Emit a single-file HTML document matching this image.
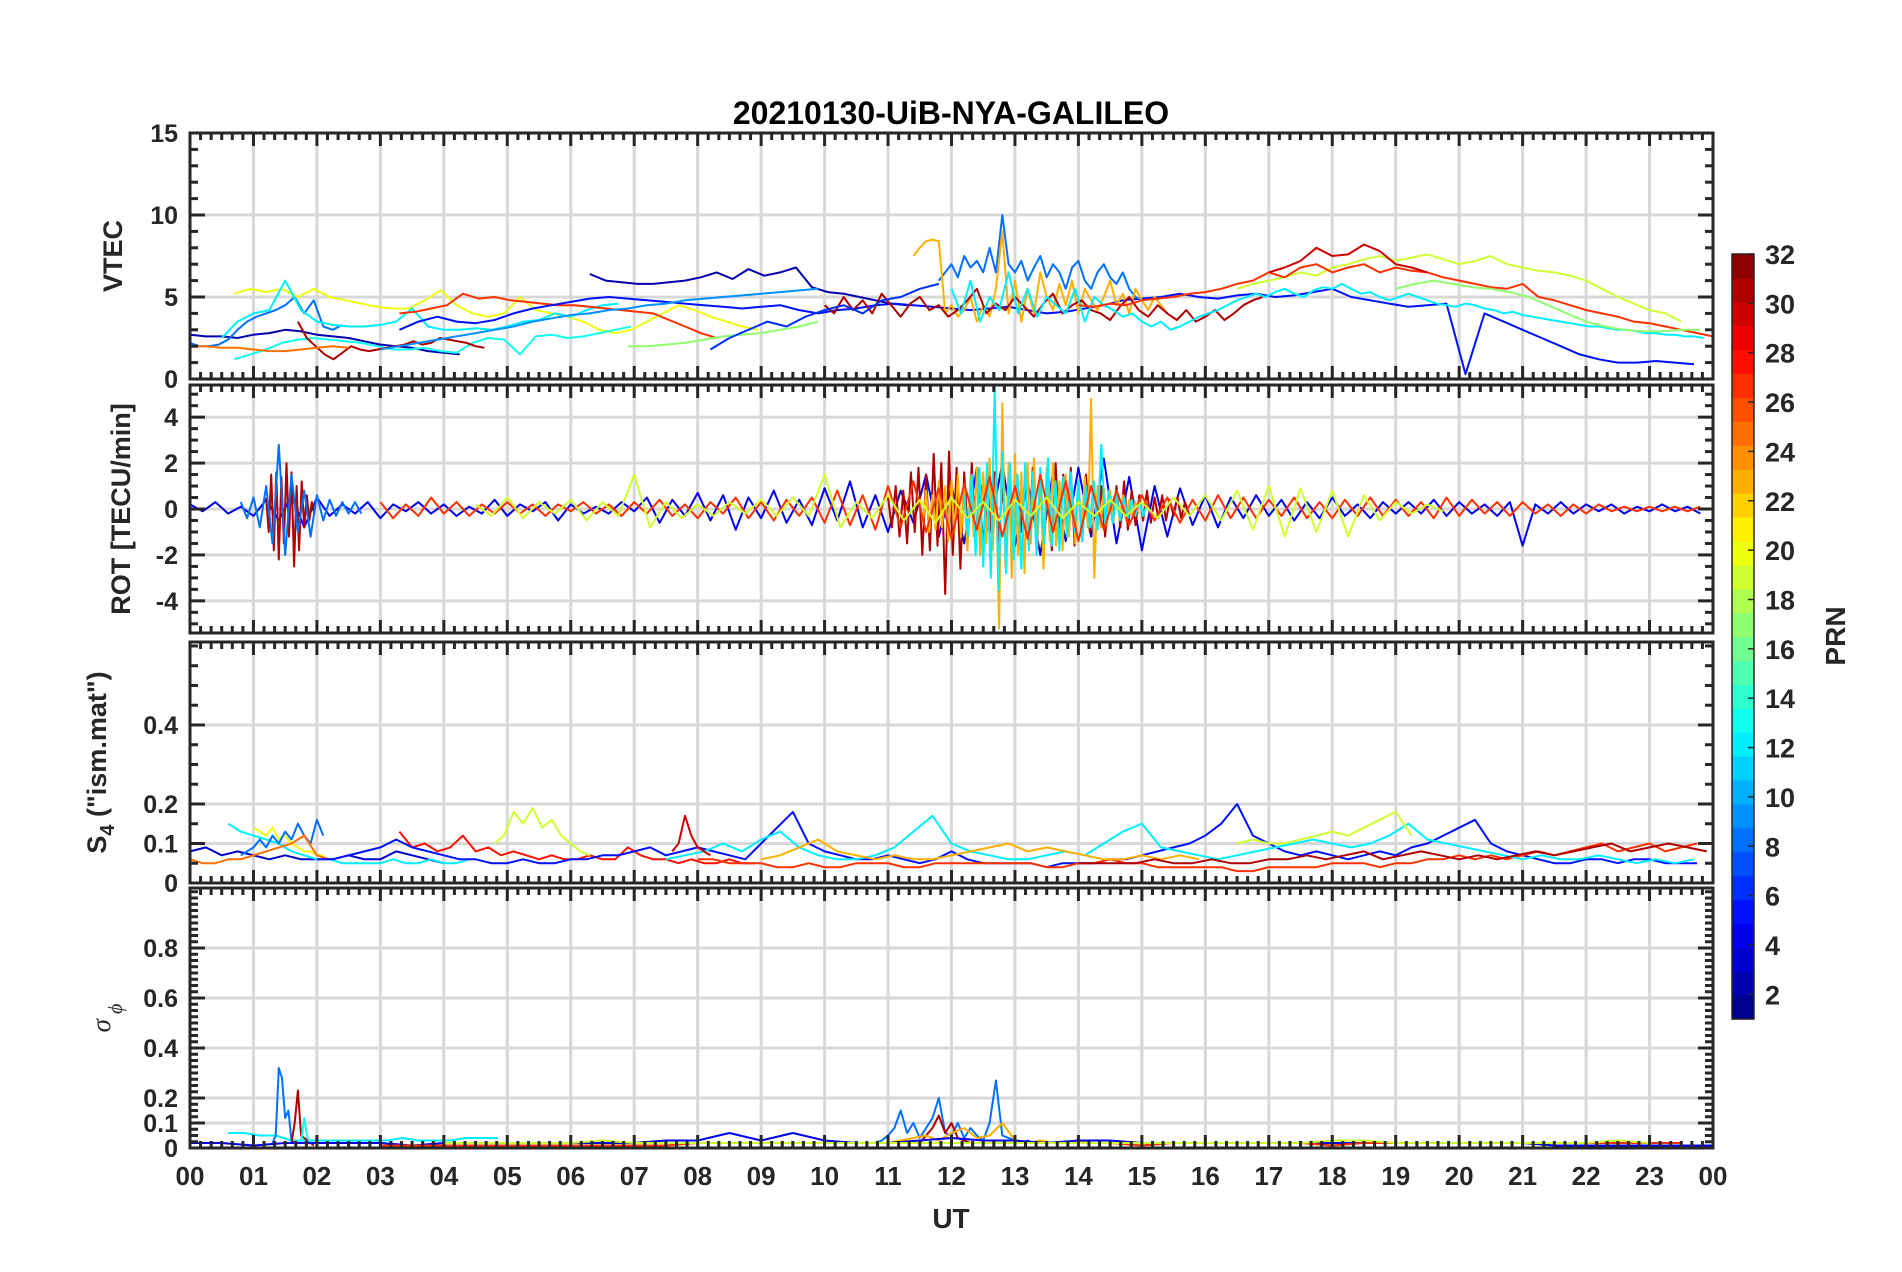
<!DOCTYPE html>
<html><head><meta charset="utf-8"><style>
html,body{margin:0;padding:0;background:#fff;}
svg{display:block;font-family:"Liberation Sans",Arial,sans-serif;}
</style></head><body>
<svg id="fig" width="1902" height="1272" viewBox="0 0 1902 1272" xmlns="http://www.w3.org/2000/svg">
<rect width="1902" height="1272" fill="#fff"/>
<text x="951" y="124" text-anchor="middle" font-size="32" font-weight="bold" fill="#000">20210130-UiB-NYA-GALILEO</text>
<g id="panels"></g>
<g id="cbar"></g>
<text x="951" y="1228" text-anchor="middle" font-size="28" font-weight="bold" fill="#262626">UT</text>
</svg>
<script>
// ---- x axis ----
const xTickLabels = ["00","01","02","03","04","05","06","07","08","09","10","11","12","13","14","15","16","17","18","19","20","21","22","23","00"];
// ---- VTEC panel series: [prn, startHour, stepHour] and values ----
const vtecMeta = [[2,0,0.25],[2,6.3,0.25],[8,0,0.15],[20,0.7,0.25],[12,0.5,0.25],[13,0.7,0.25],[31,1.7,0.14],[25,0,0.25],[27,3.3,0.25],[5,3.3,0.3],[8,11.8,0.1],[23,11.4,0.1],[31,10,0.15],[12,12,0.15],[19,16.5,0.25],[27,14,0.25],[30,17,0.25],[17,6.9,0.3],[17,19,0.3],[6,8.2,0.3],[9,3,0.3]];
const vtecValues = [
[2.7,2.6,2.6,2.5,2.7,2.8,3.0,2.9,2.7,2.6,2.5,2.3,2.1,2.0,1.9,1.7,1.6,1.5],
[6.4,6.0,5.9,5.8,5.8,5.9,6.0,6.2,6.5,6.1,6.7,6.3,6.5,6.8,5.6,5.3,5.2,5.0,4.8,4.6,4.5],
[2.2,2.0,2.0,2.1,2.4,3.0,3.5,3.8,4.0,4.2,4.5,5.0,4.0,4.8,3.2,3.0,3.3],
[5.2,5.5,5.3,5.5,5.0,5.5,5.0,4.8,4.6,4.4,4.3,4.3,4.8,5.4,4.5,4.0,3.8,4.0,5.0,4.2,4.0,3.8,3.5,3.0,2.8,3.0,3.5,4.0,4.5,4.2,3.8,3.5,3.2,3.0],
[2.5,3.5,4.0,4.2,6.0,4.2,3.5,3.3,3.2,3.2,3.3,3.5,4.3,3.2,3.0,3.0,3.1,3.0,3.2,3.5,3.6,4.0,3.8,4.2,4.5,4.6],
[1.2,1.5,1.8,2.2,2.4,2.5,2.4,2.3,2.2,2.0,1.8,1.8,1.9,1.7,1.6,2.2,2.5,2.4,1.5,2.6,2.7,2.5,2.6,2.8,3.0,3.2],
[3.5,2.5,2.0,1.5,1.2,1.6,2.0,1.8,1.7,1.8,1.9,2.0,2.1,2.3,2.1,2.2,2.5,2.4,2.3,2.2,2.0,1.9],
[2.0,2.0,1.9,1.9,1.8,1.7,1.7,1.8,1.9,2.0,1.9],
[4.0,4.1,4.3,4.5,5.2,4.9,5.0,4.8,4.7,4.6,4.5,4.5,4.4,4.3,4.2,4.1,4.0,3.6,3.2,2.8,2.5],
[3.0,3.5,3.8,3.5,3.4,3.6,4.0,4.3,4.5,4.7,4.9,5.0,4.9,4.8,4.7,4.6,4.5,4.4,4.3,4.4,4.5,4.2,4.0,4.2,4.3,4.5,4.6,4.5,4.4,4.3,4.2,4.3,4.4,4.2,4.0,4.1,4.3,4.5,4.8,4.9,5.0,5.2,5.0,4.9,5.1,5.2,5.0,5.1,5.3,5.5,5.0,4.8,4.6,4.4,4.5,4.6,0.3,4.0,3.5,3.0,2.5,2.0,1.5,1.2,1.0,1.0,1.1,1.0,0.9],
[6.0,6.5,7.0,6.2,7.5,6.8,7.2,6.5,8.0,6.5,10.0,7.0,6.5,7.2,6.0,6.8,7.5,6.2,7.0,6.5,5.5,6.8,7.2,6.0,5.5,6.5,7.0,6.2,5.8,6.5,5.5,5.0,4.8],
[7.5,8.0,8.4,8.5,8.4,4.0,4.5,3.8,4.2,5.0,3.5,4.5,3.8,5.5,9.0,4.0,6.0,3.5,5.5,4.0,6.5,5.0,4.2,5.8,4.5,6.0,4.0,5.5,4.8,4.2,5.0,6.0,4.5,5.2,4.0,5.5,4.8,4.2,5.0,4.5,4.0],
[4.5,4.0,5.0,4.2,4.8,4.0,5.2,4.5,3.8,4.6,5.0,4.2,4.5,3.8,4.2,4.8,5.5,4.0,4.6,4.2,5.0,4.4,3.8,4.6,5.2,4.0,4.5,4.8,4.2,4.0,3.6,4.4,5.0,4.2,3.8,4.5,4.0,3.6,4.2,3.5,3.8,4.2,3.6,4.0,4.5,4.8,5.0],
[5.5,4.0,6.0,3.5,5.0,4.2,6.5,4.0,5.5,3.8,5.0,4.5,4.0,5.5,3.5,5.0,4.5,4.2,3.8,4.0,3.5,3.2,3.5,3.0,3.2,3.5,3.8,4.0,4.2,4.5,4.8,5.0,5.2,5.0,5.3,5.5,5.2,5.0,5.4,5.6,5.5,5.8,5.5,5.2,5.3,5.0,4.8,5.0,5.2,5.0,4.8,4.6,4.5,4.4,4.6,4.5,4.3,4.2,4.0,4.1,3.9,3.8,3.7,3.6,3.5,3.4,3.3,3.2,3.2,3.1,3.0,3.0,2.9,2.8,2.8,2.7,2.7,2.6,2.6,2.5],
[5.5,5.8,6.0,6.2,6.5,6.3,6.8,7.0,7.3,7.5,7.2,7.4,7.6,7.3,7.0,7.2,7.5,7.0,6.8,6.6,6.5,6.3,6.0,5.5,5.0,4.6,4.2,4.0,3.5],
[4.5,4.4,4.6,4.5,4.8,4.9,5.0,5.2,5.3,5.5,5.8,6.0,6.5,6.2,6.8,7.0,6.5,6.8,7.0,6.5,6.8,6.6,6.5,6.2,6.0,5.8,5.6,5.5,5.8,5.0,4.8,4.5,4.2,4.0,3.8,3.5,3.4,3.2,3.0,2.8,2.6],
[6.5,6.8,7.2,8.0,7.5,7.6,8.2,7.8,7.0,6.8,6.5],
[2.0,2.0,2.1,2.2,2.4,2.6,2.7,2.8,3.0,3.2,3.5],
[5.5,5.8,6.0,5.8,5.6,5.5,5.3,5.0,4.5,4.0,3.5,3.2,3.0,2.9,2.9,3.0,3.0],
[1.8,2.5,3.0,3.5,3.2,3.8,4.2,4.5,4.0,4.8,5.0,5.5,5.8],
[1.8,2.0,2.2,2.4,2.6,2.8,3.0,3.2,3.5,3.7,3.9,4.0,4.2,4.3,4.5,4.6,4.8,4.9,5.0,5.1,5.2,5.3,5.4,5.5]
];
// ---- ROT panel ----
const rotMeta = [[4,0,0.2],[31,1.2,0.04],[31,11,0.06],[23,11.5,0.05],[12,12.2,0.06],[27,3,0.2],[19,4.5,0.25],[8,0.8,0.1]];
const rotValues = [
[0.2,-0.1,0.3,-0.2,0.1,-0.3,0.4,-0.5,0.6,-0.8,0.5,-0.3,0.2,-0.2,0.3,-0.4,0.2,-0.1,0.3,-0.2,0.2,-0.3,0.1,-0.2,0.4,-0.3,0.2,-0.1,0.3,-0.5,0.2,-0.2,0.1,-0.2,0.3,-0.1,0.5,-0.6,0.4,-0.3,0.7,-0.5,0.6,-0.9,0.5,-0.4,0.8,-0.6,0.4,-0.7,0.9,-0.5,1.2,-0.8,0.6,-1.0,0.8,-0.6,1.5,-1.2,1.0,-1.5,1.8,-1.0,2.0,-1.6,1.2,-2.0,1.6,-1.4,1.8,-1.2,2.2,-1.5,1.4,-1.8,1.0,-1.2,0.9,-0.7,0.6,-0.8,0.5,-0.4,0.6,-0.3,0.4,-0.5,0.3,-0.4,0.5,-0.3,0.2,-0.4,0.3,-0.2,0.3,-0.2,0.4,-0.3,0.3,-0.2,0.2,-0.3,0.3,-1.6,0.2,-0.2,0.3,-0.2,0.2,-0.1,0.2,-0.2,0.1,-0.1,0.2,-0.1,0.1,-0.2],
[0.5,-1.0,1.5,-1.8,1.6,-2.2,1.4,-1.5,2.0,-1.2,1.6,-2.5,1.0,-1.8,1.2,-0.8,0.6,-0.5,0.3,-0.2],
[0.5,-0.8,1.0,-1.2,0.8,-1.5,1.6,-1.0,1.8,-2.0,1.5,-1.8,2.4,-1.6,2.0,-3.7,2.5,-2.0,1.8,-2.6,1.6,-1.2,2.0,-1.5,1.2,-1.8,1.5,-1.0,1.6,-1.4,1.0,-1.2,1.5,-1.8,1.2,-1.0,1.4,-1.6,1.8,-1.2,1.0,-1.5,1.6,-1.8,2.0,-1.2,1.5,-1.0,1.8,-1.6,1.2,-1.4,1.5,-1.0,1.2,-0.8,1.0,-1.2,0.8,-0.6,1.0,-0.8,1.2,-0.9,0.8,-0.7,0.6,-0.5,0.8,-0.6,0.5,-0.4,0.6,-0.5,0.4,-0.3,0.5,-0.4,0.3,-0.2],
[0.4,-0.6,0.8,-1.0,0.6,-0.9,1.2,-0.8,1.0,-1.4,1.2,-1.0,1.5,-1.2,1.0,-1.8,1.4,-1.2,1.8,-2.0,1.6,-1.5,2.2,-1.8,1.4,-5.2,4.6,-2.5,2.0,-3.0,2.4,-2.0,1.6,-2.8,2.0,-1.5,2.2,-1.8,1.5,-2.6,1.8,-1.4,2.0,-1.6,1.2,-1.8,1.5,-1.2,1.0,-1.5,1.2,-1.0,1.4,-0.8,4.8,-3.0,1.0,-0.8,0.9,-0.7,0.8,-0.6,0.7,-0.5,0.6,-0.5,0.4,-0.3,0.3,-0.2],
[0.6,-1.2,1.5,-2.0,1.8,-2.5,2.0,-3.0,5.3,-3.5,2.5,-2.8,2.0,-2.2,1.5,-2.6,2.0,-1.8,1.6,-2.0,1.8,-1.5,2.2,-1.6,1.2,-1.8,1.4,-1.2,1.6,-1.0,1.2,-1.4,1.0,-0.8,1.2,-0.9,2.8,-0.7,0.8,-0.6,0.6,-0.5,0.5,-0.4,0.4,-0.3,0.4,-0.3,0.2,-0.2],
[0.3,-0.4,0.2,-0.3,0.5,-0.2,0.3,-0.3,0.2,-0.2,0.3,-0.2,0.2,-0.3,0.2,-0.1,0.3,-0.2,0.2,-0.3,0.3,-0.2,0.4,-0.3,0.2,-0.4,0.3,-0.2,0.5,-0.4,0.3,-0.5,0.4,-0.3,0.5,-0.6,0.8,-0.7,0.6,-0.9,1.0,-0.8,1.2,-1.0,0.9,-1.3,1.1,-0.9,1.4,-1.2,1.0,-1.3,1.5,-1.0,1.2,-1.4,1.0,-0.9,0.8,-0.7,0.6,-0.5,0.5,-0.6,0.4,-0.5,0.6,-0.4,0.5,-0.4,0.4,-0.3,0.5,-0.4,0.3,-0.4,0.4,-0.3,0.5,-0.3,0.4,-0.3,0.3,-0.4,0.5,-0.3,0.4,-0.2,0.3,-0.3,0.3,-0.2,0.2,-0.3,0.2,-0.2,0.2,-0.1,0.1,-0.1,0.1,-0.1,0.1,-0.1,0.1],
[0.2,-0.3,0.5,-0.4,0.3,-0.2,0.4,-0.5,0.3,-0.3,1.5,-0.8,0.3,-0.4,0.2,-0.3,0.3,-0.2,0.4,-0.3,0.5,-0.3,1.5,-0.8,0.3,-0.4,0.6,-0.5,0.4,-0.6,0.5,-0.4,0.3,-0.5,0.4,-0.3,0.5,-0.4,0.3,-0.3,0.4,-0.3,0.3,-0.4,0.5,-0.3,0.6,-0.5,0.8,-0.9,1.0,-1.2,0.9,-1.0,0.8,-1.2,0.6,-0.5,0.3,-0.2,0.2,-0.1],
[0.3,-0.4,0.5,-0.8,1.0,-1.5,2.8,-2.0,1.5,-1.0,0.8,-1.2,0.6,-0.5,0.4,-0.3,0.3,-0.2,0.3,-0.2]
];
// ---- S4 panel ----
const s4Meta = [[3,0,0.25],[12,0.6,0.2],[20,1.0,0.1],[8,0.8,0.1],[25,0,0.2],[28,3.3,0.2],[19,4.8,0.15],[5,2,0.25],[27,8,0.25],[12,7.5,0.3],[23,9,0.3],[19,16.5,0.25],[31,14,0.3],[30,7.6,0.1]];
const s4Values = [
[0.08,0.09,0.07,0.08,0.07,0.06,0.07,0.06,0.06,0.06,0.07,0.06,0.06,0.08,0.07,0.06,0.05],
[0.15,0.13,0.12,0.11,0.10,0.08,0.07,0.06,0.06,0.05,0.05,0.05,0.05,0.06,0.05,0.05,0.06,0.05,0.05,0.06],
[0.14,0.13,0.12,0.14,0.11,0.12,0.10,0.09,0.08,0.08,0.07,0.07],
[0.07,0.08,0.09,0.11,0.09,0.12,0.10,0.13,0.11,0.15,0.12,0.10,0.16,0.12],
[0.06,0.05,0.05,0.06,0.06,0.07,0.08,0.09,0.10,0.12,0.07,0.06],
[0.13,0.09,0.10,0.08,0.09,0.12,0.08,0.09,0.07,0.08,0.07,0.06,0.07,0.06,0.06,0.07,0.06,0.06,0.09,0.07,0.06,0.06,0.05,0.06,0.05,0.05,0.06,0.05,0.05],
[0.10,0.12,0.18,0.15,0.19,0.14,0.16,0.12,0.10,0.08,0.07],
[0.06,0.06,0.07,0.08,0.09,0.11,0.09,0.08,0.07,0.06,0.06,0.05,0.05,0.06,0.05,0.05,0.06,0.06,0.07,0.07,0.08,0.09,0.07,0.08,0.09,0.08,0.07,0.06,0.10,0.14,0.18,0.10,0.08,0.07,0.06,0.06,0.07,0.06,0.05,0.06,0.08,0.06,0.05,0.05,0.05,0.05,0.04,0.05,0.05,0.05,0.06,0.06,0.07,0.08,0.09,0.10,0.12,0.15,0.20,0.12,0.10,0.08,0.07,0.08,0.07,0.06,0.07,0.08,0.07,0.09,0.10,0.12,0.14,0.16,0.10,0.08,0.07,0.06,0.05,0.05,0.06,0.06,0.05,0.06,0.06,0.05,0.05,0.05],
[0.06,0.06,0.05,0.05,0.05,0.04,0.04,0.05,0.04,0.04,0.05,0.05,0.05,0.04,0.04,0.05,0.05,0.05,0.05,0.05,0.05,0.05,0.04,0.04,0.05,0.05,0.06,0.05,0.05,0.04,0.04,0.04,0.04,0.04,0.03,0.03,0.04,0.04,0.04,0.04,0.05,0.05,0.05,0.04,0.05,0.05,0.06,0.06,0.07,0.06,0.07,0.06,0.07,0.08,0.07,0.08,0.09,0.10,0.08,0.09,0.10,0.08,0.09,0.10],
[0.06,0.07,0.08,0.10,0.08,0.11,0.13,0.09,0.07,0.06,0.06,0.07,0.09,0.13,0.17,0.10,0.08,0.07,0.06,0.06,0.07,0.08,0.07,0.10,0.13,0.15,0.09,0.08,0.07,0.06,0.07,0.08,0.09,0.10,0.11,0.10,0.09,0.10,0.12,0.15,0.11,0.10,0.09,0.08,0.07,0.06,0.07,0.06,0.06,0.07,0.06,0.05,0.06,0.05,0.06],
[0.06,0.07,0.09,0.11,0.08,0.07,0.06,0.07,0.06,0.06,0.07,0.08,0.09,0.10,0.08,0.09,0.08,0.07,0.06,0.06,0.07,0.06,0.07,0.06],
[0.10,0.11,0.10,0.10,0.11,0.12,0.13,0.12,0.14,0.16,0.18,0.12],
[0.05,0.05,0.05,0.05,0.06,0.05,0.05,0.06,0.05,0.05,0.06,0.06,0.07,0.06,0.07,0.08,0.06,0.07,0.08,0.07,0.06,0.07,0.06,0.07,0.08,0.07,0.08,0.09,0.10,0.08,0.09,0.10,0.09,0.08],
[0.08,0.10,0.17,0.12,0.09,0.08,0.07]
];
// ---- sigma-phi panel ----
const sigMeta = [[12,0.6,0.25],[8,1.3,0.05],[31,1.6,0.05],[13,1.75,0.05],[8,10.8,0.1],[31,11.5,0.1],[23,11,0.2],[4,0,0.5],[27,3,0.5],[19,4,0.5]];
const sigValues = [
[0.06,0.06,0.05,0.05,0.03,0.03,0.03,0.03,0.03,0.03,0.03,0.04,0.03,0.03,0.03,0.04,0.04,0.04],
[0.02,0.05,0.32,0.28,0.12,0.15,0.03,0.02,0.02],
[0.02,0.10,0.23,0.05,0.04,0.03,0.02,0.01],
[0.02,0.12,0.04,0.02],
[0.02,0.03,0.05,0.08,0.15,0.06,0.10,0.04,0.08,0.12,0.20,0.06,0.05,0.10,0.04,0.08,0.05,0.03,0.10,0.27,0.05,0.04,0.03,0.02,0.03,0.02,0.02],
[0.02,0.05,0.08,0.13,0.06,0.10,0.04,0.03,0.02],
[0.02,0.03,0.04,0.05,0.03,0.06,0.08,0.04,0.05,0.10,0.03,0.02,0.03,0.02,0.02,0.03,0.02,0.02,0.02,0.02],
[0.02,0.02,0.01,0.02,0.02,0.02,0.02,0.01,0.02,0.02,0.02,0.02,0.02,0.02,0.02,0.03,0.03,0.06,0.03,0.06,0.03,0.02,0.02,0.03,0.04,0.03,0.03,0.02,0.03,0.03,0.02,0.02,0.02,0.02,0.02,0.02,0.02,0.02,0.02,0.02,0.02,0.02,0.02,0.01,0.01,0.01,0.01,0.01,0.01],
[0.01,0.01,0.01,0.01,0.01,0.01,0.01,0.01,0.01,0.01,0.02,0.02,0.02,0.02,0.02,0.02,0.02,0.02,0.02,0.02,0.02,0.02,0.02,0.02,0.01,0.02,0.02,0.02,0.02,0.02,0.01,0.02,0.02,0.02,0.02,0.02,0.02,0.02,0.02,0.02,0.02,0.02],
[0.02,0.02,0.02,0.02,0.02,0.03,0.02,0.02,0.02,0.02,0.02,0.02,0.02,0.02,0.02,0.02,0.02,0.02,0.02,0.02,0.02,0.02,0.02,0.02,0.02,0.02,0.02,0.02,0.03,0.03,0.02,0.02,0.02,0.02,0.02,0.02,0.02,0.03,0.02]
];
// ---- y-axis ticks ----
const p1Ticks=[0,5,10,15], p2Ticks=[-4,-2,0,2,4], p3Ticks=[0,0.1,0.2,0.4], p4Ticks=[0,0.1,0.2,0.4,0.6,0.8];
const p1TickLabels=["0","5","10","15"], p2TickLabels=["-4","-2","0","2","4"], p3TickLabels=["0","0.1","0.2","0.4"], p4TickLabels=["0","0.1","0.2","0.4","0.6","0.8"];
const cbTicks=[2,4,6,8,10,12,14,16,18,20,22,24,26,28,30,32];

const NS="http://www.w3.org/2000/svg";
const L=190,R=1713;
const X=t=>L+t/24*(R-L);
function jet(k){const t=(k-0.5)/32;const c=v=>Math.round(255*Math.max(0,Math.min(1,v)));
 return `rgb(${c(1.5-Math.abs(4*t-3))},${c(1.5-Math.abs(4*t-2))},${c(1.5-Math.abs(4*t-1))})`;}
function el(tag,attrs,parent){const e=document.createElementNS(NS,tag);for(const k in attrs)e.setAttribute(k,attrs[k]);parent.appendChild(e);return e;}
const root=document.getElementById('panels');
const panels=[
 {name:'vtec',top:133,bot:379,min:0,max:15,ticks:p1Ticks,labels:p1TickLabels,minor:1,meta:vtecMeta,vals:vtecValues,label:'VTEC',lx:122},
 {name:'rot',top:385,bot:633,min:-5.4,max:5.4,ticks:p2Ticks,labels:p2TickLabels,minor:0.5,meta:rotMeta,vals:rotValues,label:'ROT [TECU/min]',lx:130},
 {name:'s4',top:642,bot:883,min:0,max:0.61,ticks:p3Ticks,labels:p3TickLabels,minor:0.05,meta:s4Meta,vals:s4Values,label:'s4',lx:106},
 {name:'sigma-phi',top:888,bot:1148,min:0,max:1.04,ticks:p4Ticks,labels:p4TickLabels,minor:0.025,meta:sigMeta,vals:sigValues,label:'sig',lx:110}
];
panels.forEach((p,pi)=>{
 const g=el('g',{},root);
 
 
 const Y=v=>p.bot-(v-p.min)/(p.max-p.min)*(p.bot-p.top);
 for(let h=1;h<24;h++){const gl=el('line',{x1:X(h),x2:X(h),y1:p.top,y2:p.bot,stroke:'#d8d8d8','stroke-width':3},g);
  }
 p.ticks.forEach(v=>{const gl=el('line',{x1:L,x2:R,y1:Y(v),y2:Y(v),stroke:'#d8d8d8','stroke-width':3},g);
  });
 const clipId='clip'+pi;
 const cp=el('clipPath',{id:clipId},g);el('rect',{x:L,y:p.top,width:R-L,height:p.bot-p.top},cp);
 const sg=el('g',{'clip-path':`url(#${clipId})`},g);
 p.meta.forEach((m,i)=>{const pts=p.vals[i].map((v,j)=>X(m[1]+j*m[2]).toFixed(1)+','+Y(v).toFixed(1)).join(' ');
  const pl=el('polyline',{points:pts,fill:'none',stroke:jet(m[0]),'stroke-width':2,'stroke-linejoin':'round'},sg);
  });
 const tk=el('g',{stroke:'#262626','stroke-width':3},g);
 for(let m=0;m<=144;m++){const x=X(m/6);const len=(m%6===0)?13:7;
  el('line',{x1:x,x2:x,y1:p.top,y2:p.top+len},tk);el('line',{x1:x,x2:x,y1:p.bot,y2:p.bot-len},tk);}
 for(let k=Math.ceil(p.min/p.minor);k*p.minor<=p.max+1e-9;k++){const v=k*p.minor;const y=Y(v);
  const major=p.ticks.some(t=>Math.abs(t-v)<1e-9);const len=major?15:8;
  el('line',{x1:L,x2:L+len,y1:y,y2:y},tk);el('line',{x1:R,x2:R-len,y1:y,y2:y},tk);}
 p.ticks.forEach((v,i)=>{const t=el('text',{x:178,y:Y(v)+9,'text-anchor':'end','font-size':25,'font-weight':'bold',fill:'#262626'},g);
  t.textContent=p.labels[i];});
 const fr=el('rect',{x:L,y:p.top,width:R-L,height:p.bot-p.top,fill:'none',stroke:'#262626','stroke-width':3},g);
 
 const cy=(p.top+p.bot)/2;
 const yl=el('text',{transform:`translate(${p.lx},${cy}) rotate(-90)`,'text-anchor':'middle','font-size':27,'font-weight':'bold',fill:'#262626'},g);
 
 if(p.label==='s4'){yl.innerHTML='S<tspan font-size="20" dy="8">4</tspan><tspan dy="-8"> ("ism.mat")</tspan>';}
 else if(p.label==='sig'){yl.setAttribute('font-weight','normal');yl.setAttribute('font-style','italic');yl.setAttribute('font-family','"Liberation Serif",serif');
  yl.innerHTML='σ<tspan font-size="20" dy="12"> ϕ</tspan>';}
 else yl.textContent=p.label;
});
xTickLabels.forEach((s,i)=>{const t=el('text',{x:X(i),y:1185,'text-anchor':'middle','font-size':26,'font-weight':'bold',fill:'#262626'},root);
 t.textContent=s;});
const cb=document.getElementById('cbar');

const CT=254,CB=1019,CL=1732,CR=1754;
const CY=v=>CT+(32-v)/31*(CB-CT);
for(let k=1;k<=32;k++){const h=(CB-CT)/32;const r=el('rect',{x:CL,y:CB-k*h,width:CR-CL,height:h+0.6,fill:jet(k)},cb);
 }
el('rect',{x:CL,y:CT,width:CR-CL,height:CB-CT,fill:'none',stroke:'#262626','stroke-width':1.5},cb);
cbTicks.forEach(v=>{el('line',{x1:CR-6,x2:CR,y1:CY(v),y2:CY(v),stroke:'#262626','stroke-width':1.5},cb);
 const t=el('text',{x:1765,y:CY(v)+10,'font-size':27,'font-weight':'bold',fill:'#262626'},cb);t.textContent=String(v);
 });
const pl=el('text',{transform:'translate(1845,636) rotate(-90)','text-anchor':'middle','font-size':28,'font-weight':'bold',fill:'#262626'},cb);
pl.textContent='PRN';
</script>
</body></html>
